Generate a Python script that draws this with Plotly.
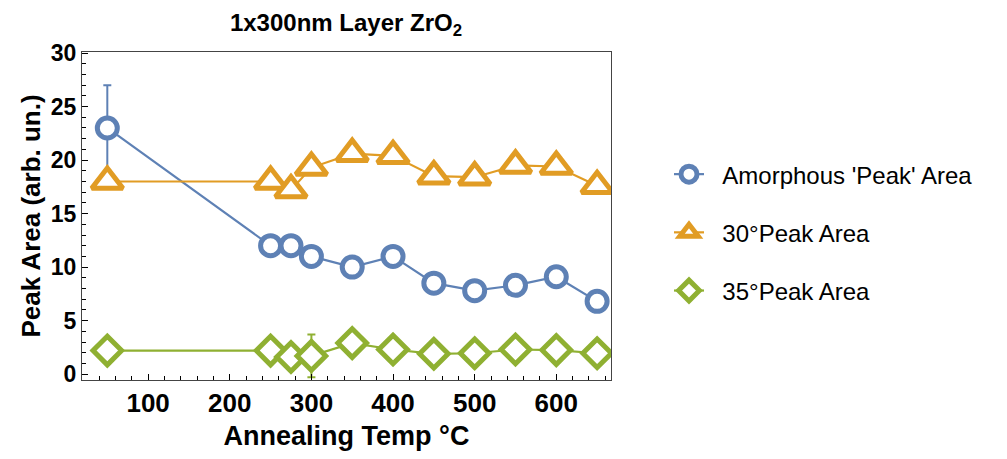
import plotly.graph_objects as go

temps = [50, 250, 275, 300, 350, 400, 450, 500, 550, 600, 650]
amorphous = [23.0, 12.0, 12.0, 11.0, 10.0, 11.0, 8.5, 7.8, 8.3, 9.1, 6.8]
amorphous_err = [4.0, 0, 0, 0, 0, 0, 0, 0, 0, 0, 0]
peak30 = [18.0, 18.0, 17.2, 19.3, 20.6, 20.4, 18.5, 18.4, 19.5, 19.4, 17.6]
peak35 = [2.2, 2.2, 1.6, 1.7, 2.9, 2.3, 1.9, 1.95, 2.3, 2.25, 1.95]
peak35_err = [0, 0, 0, 2.0, 0, 0, 0, 0, 0, 0, 0]

names = ["Amorphous 'Peak' Area", "30°Peak Area", "35°Peak Area"]
colors = ["#5E81B5", "#E19C24", "#8FB032"]

FONT = "Liberation Sans, Arial, sans-serif"
PAD = "\u00a0\u00a0"  # small gap between legend symbol and label

# page body has an 8px margin; compensate so the figure lands where the reference is
OFF = 8
W, H = 1007 - OFF, 459 - OFF
L, R, T, B = 82 - OFF, 1007 - 611, 52 - OFF, 459 - 380
PW, PH = 611 - 82, 380 - 52

fig = go.Figure()

fig.add_trace(go.Scatter(
    x=temps, y=amorphous, name=PAD + names[0], mode="lines+markers", legendgroup="a",
    line=dict(color=colors[0], width=2.2),
    marker=dict(symbol="circle", size=20, color="white", line=dict(color=colors[0], width=5)),
    error_y=dict(type="data", array=amorphous_err, visible=True, color=colors[0], thickness=2, width=4),
))
fig.add_trace(go.Scatter(
    x=temps, y=peak30, name=PAD + names[1], mode="lines+markers", legendgroup="b",
    line=dict(color=colors[1], width=2.2),
    marker=dict(symbol="triangle-up", size=27, color="white", line=dict(color=colors[1], width=5)),
))
fig.add_trace(go.Scatter(
    x=temps, y=peak35, name=PAD + names[2], mode="lines+markers", legendgroup="c",
    line=dict(color=colors[2], width=2.2),
    marker=dict(symbol="diamond", size=22, color="white", line=dict(color=colors[2], width=5)),
    error_y=dict(type="data", array=peak35_err, visible=True, color=colors[2], thickness=2, width=4),
))

axis_common = dict(
    showline=True, linecolor="#444444", linewidth=1.2, mirror=True,
    ticks="inside", ticklen=6, tickcolor="#000000", tickwidth=1,
    showgrid=False, zeroline=False, automargin=False,
)

fig.update_xaxes(
    range=[19, 667], tickvals=[100, 200, 300, 400, 500, 600],
    tickfont=dict(family=FONT, size=26, color="black", weight="bold"),
    minor=dict(dtick=20, tick0=0, ticks="inside", ticklen=4, tickcolor="#000000"),
    title=dict(text="Annealing Temp °C", font=dict(family=FONT, size=27, color="black", weight="bold"), standoff=8),
    **axis_common,
)
fig.update_yaxes(
    range=[-0.55, 30.1], tickvals=[0, 5, 10, 15, 20, 25, 30],
    tickfont=dict(family=FONT, size=23, color="black", weight="bold"),
    minor=dict(dtick=1, tick0=0, ticks="inside", ticklen=4, tickcolor="#000000"),
    title=dict(text="Peak Area (arb. un.)", font=dict(family=FONT, size=26, color="black", weight="bold"), standoff=2),
    **axis_common,
)

fig.update_layout(
    width=W, height=H,
    margin=dict(l=L, r=R, t=T, b=B, autoexpand=False),
    paper_bgcolor="white", plot_bgcolor="white",
    title=dict(text="1x300nm Layer ZrO<sub>2</sub>", x=(346 - OFF) / W, xanchor="center",
               y=1 - (23 - OFF) / H, yanchor="middle",
               font=dict(family=FONT, size=24, color="black", weight="bold")),
    legend=dict(x=(669 - 82) / PW, y=0.695, xanchor="left", yanchor="top",
                font=dict(family=FONT, size=24, color="black"),
                itemwidth=30, tracegroupgap=24, bgcolor="rgba(0,0,0,0)"),
    showlegend=True,
)

fig.write_html("out.html")
